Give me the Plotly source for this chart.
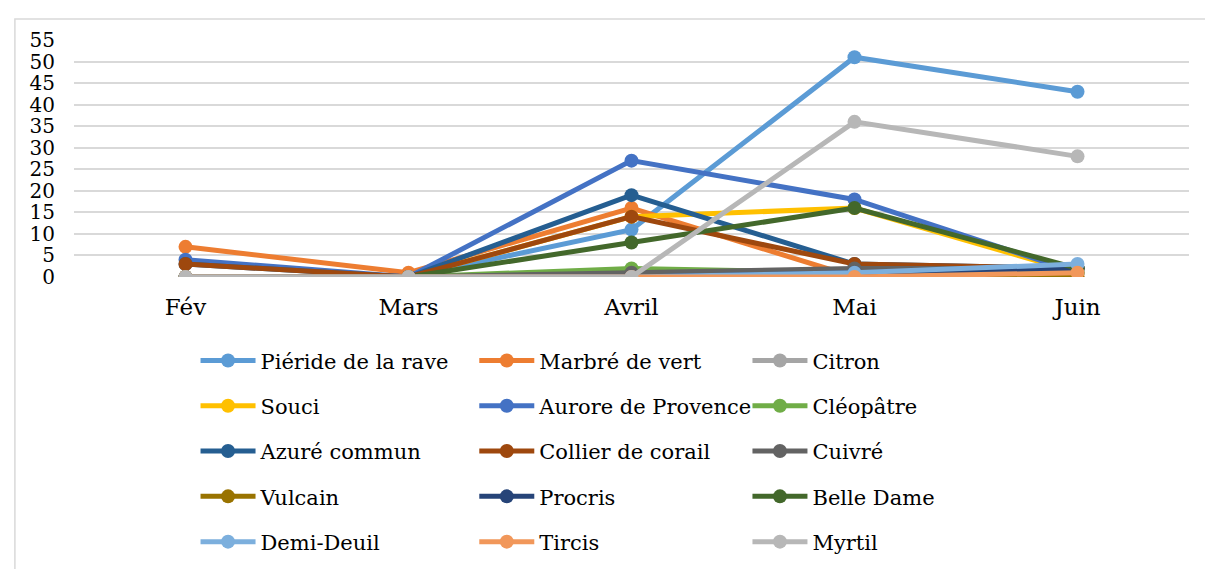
import plotly.graph_objs as go

months = ['Fév', 'Mars', 'Avril', 'Mai', 'Juin']

noms = ['Piéride de la rave', 'Marbré de vert', 'Citron',
        'Souci', 'Aurore de Provence', 'Cléopâtre',
        'Azuré commun', 'Collier de corail', 'Cuivré',
        'Vulcain', 'Procris', 'Belle Dame',
        'Demi-Deuil', 'Tircis', 'Myrtil']

pieride = [0, 0, 11, 51, 43]
marbre = [7, 1, 16, 0, 0]
citron = [0, 0, 0, 1, 1]
souci = [0, 0, 14, 16, 1]
aurore = [4, 0, 27, 18, 1]
cleopatre = [0, 0, 2, 1, 1]
azure = [3, 0, 19, 3, 2]
collier = [3, 0, 14, 3, 2]
cuivre = [0, 0, 1, 2, 2]
vulcain = [0, 0, 0, 0, 0]
procris = [0, 0, 0, 1, 2]
belle_dame = [0, 0, 8, 16, 2]
demi_deuil = [0, 0, 0, 1, 3]
tircis = [0, 0, 0, 0, 1]
myrtil = [0, 0, 0, 36, 28]

series = [pieride, marbre, citron, souci, aurore, cleopatre, azure, collier,
          cuivre, vulcain, procris, belle_dame, demi_deuil, tircis, myrtil]

couleurs = ['#5B9BD5', '#ED7D31', '#A5A5A5', '#FFC000', '#4472C4', '#70AD47',
            '#255E91', '#9E480E', '#636363', '#997300', '#264478', '#43682B',
            '#7CAFDD', '#F1975A', '#B7B7B7']

police = 'DejaVu Serif'

data = []
for i, (nom, vals, c) in enumerate(zip(noms, series, couleurs)):
    leg = ['legend', 'legend2', 'legend3'][i % 3]
    data.append(go.Scatter(x=months, y=vals, name=nom, mode='lines+markers',
                           line=dict(color=c, width=5),
                           marker=dict(color=c, size=14),
                           legend=leg, legendgroup=nom))

leg_common = dict(orientation='v', yanchor='top', y=-0.267, xanchor='left',
                  font=dict(family=police, size=21, color='black'),
                  tracegroupgap=15, bgcolor='rgba(0,0,0,0)', itemwidth=55)

layout = go.Layout(
    width=1213, height=569,
    margin=dict(l=66, r=32, t=32, b=300, autoexpand=False),
    paper_bgcolor='white', plot_bgcolor='white',
    font=dict(family=police, size=21, color='black'),
    xaxis=dict(type='category', range=[-0.5, 4.5], showgrid=False, zeroline=False,
               showline=False, ticks='', tickfont=dict(family=police, size=23),
               ticklabelstandoff=14),
    yaxis=dict(range=[0, 55], dtick=5, tick0=0, gridcolor='#D9D9D9', gridwidth=2,
               zeroline=False, showline=False, ticks='', tickfont=dict(family=police, size=20),
               ticklabelstandoff=18),
    legend=dict(x=0.109, **leg_common),
    legend2=dict(x=0.359, **leg_common),
    legend3=dict(x=0.604, **leg_common),
    showlegend=True,
    shapes=[dict(type='rect', xref='paper', yref='paper', x0=-0.053, x1=1.03,
                 y0=-1.3, y1=1.089, line=dict(color='#D9D9D9', width=1.5))],
)

fig = go.Figure(data=data, layout=layout)
fig.write_html('out.html')
